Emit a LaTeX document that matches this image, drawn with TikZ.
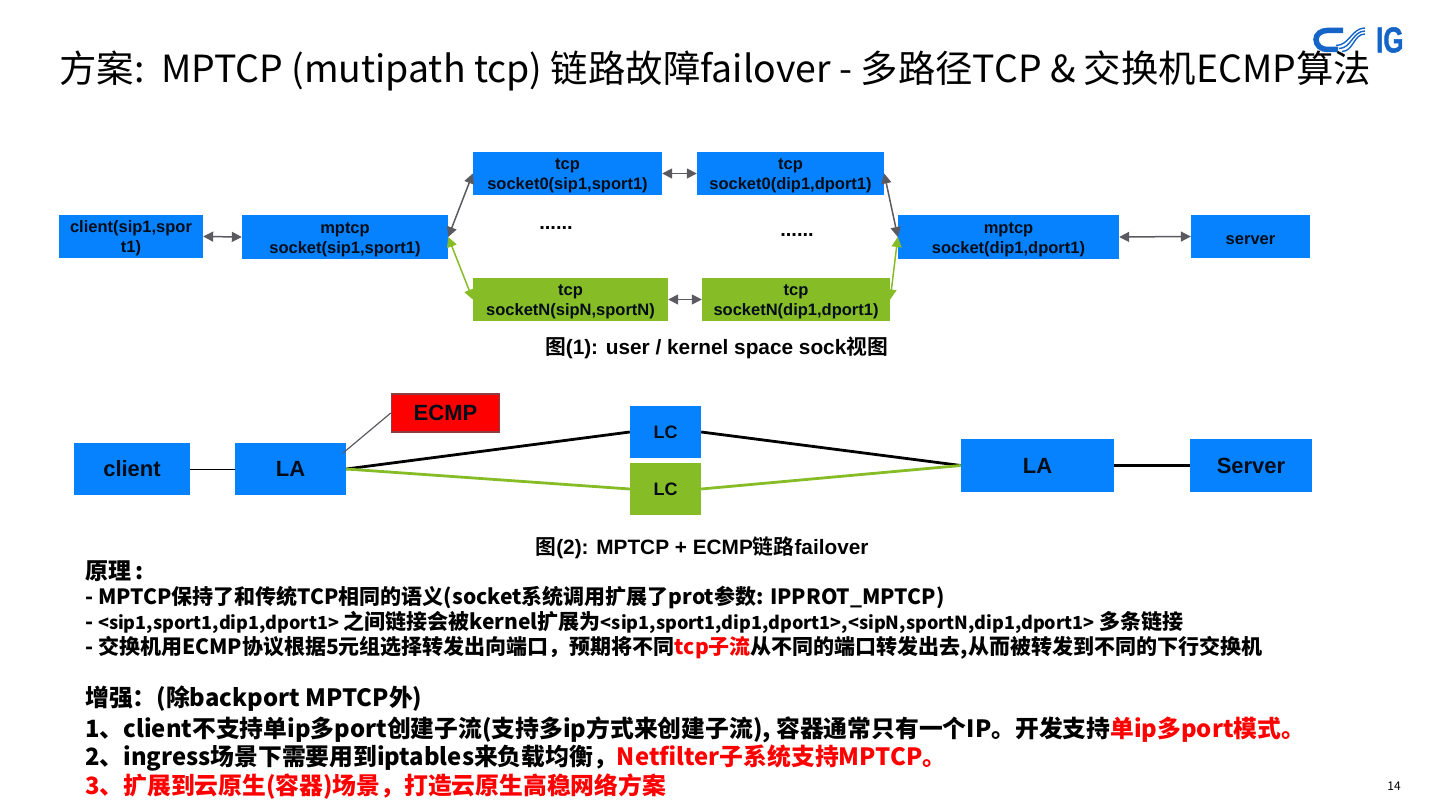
\documentclass[tikz,border=0pt]{standalone}
\usepackage{fontspec}
\setmainfont{Noto Sans CJK SC}
\newfontfamily\helv{Liberation Sans}[BoldFont={Liberation Sans Bold}]
\newfontfamily\cjkb{Noto Sans CJK SC}[BoldFont={Noto Sans CJK SC Bold}]
\newfontfamily\logofont{Liberation Sans Bold}[FakeBold=1.5]
\definecolor{boxblue}{HTML}{0682FF}
\definecolor{boxgreen}{HTML}{86BC25}
\definecolor{linkgray}{HTML}{5A5A60}
\definecolor{ecmpred}{HTML}{FF0000}
\definecolor{logoblue}{HTML}{1565C8}
\usetikzlibrary{arrows.meta}
\tikzset{
  basebox/.style={fill=boxblue, align=center, inner sep=0pt, text=black!90!boxblue},
  sockbox/.style={basebox, font=\helv\bfseries\fontsize{16.5}{20}\selectfont},
  greenbox/.style={sockbox, fill=boxgreen},
  netbox/.style={basebox, font=\helv\bfseries\fontsize{22}{24}\selectfont},
  lcbox/.style={basebox, font=\helv\bfseries\fontsize{18}{20}\selectfont},
  grayarrow/.style={linkgray, line width=1.5pt, {Triangle[length=10pt,width=10pt]}-{Triangle[length=10pt,width=10pt]}},
  greenarrow/.style={grayarrow, boxgreen},
  caption/.style={font=\helv\bfseries\fontsize{20.8}{24}\selectfont, anchor=center},
  bodyline/.style={anchor=west, font=\bfseries\fontsize{21}{25}\selectfont, inner sep=0pt},
  bigline/.style={anchor=west, font=\bfseries\fontsize{23.8}{28}\selectfont, inner sep=0pt}
}
\newcommand{\redtxt}[1]{\textcolor{red}{#1}}
\newcommand{\fwcomma}{\char"FF0C\relax}
\newcommand{\fwcolon}{\char"FF1A\relax}
\newcommand{\lowered}{\rule{0pt}{15.5pt}}
\begin{document}
\begin{tikzpicture}[x=1pt, y=-1pt]
  \useasboundingbox (0,0) rectangle (1440,810);

  \draw[logoblue, line width=5.5pt] (1343,30.5) -- (1327,30.5) to[out=180, in=90] (1316,39.5) to[out=-90, in=180] (1327,49.5) -- (1338,49.5);
  \foreach \off in {0,3,6}
    \draw[logoblue, line width=1.4pt] (1342-\off,51.5-\off) to[out=0, in=180] (1365,34-\off);
  \node[anchor=west, inner sep=0pt, text=logoblue, xscale=.72, transform shape, font=\logofont\fontsize{36}{36}\selectfont] (logo) at (1376,40) {IG};

  \node[anchor=west, inner sep=0pt, font=\fontsize{37.4}{44}\selectfont] (title) at (59,71)
    {方案:\ \ MPTCP (mutipath tcp) 链路故障failover - 多路径TCP \& 交换机ECMP算法};

  \node[sockbox, minimum width=144pt, minimum height=43pt] (client) at (131,236.5) {\lowered client(sip1,spor\\t1)};
  \node[sockbox, minimum width=206pt, minimum height=44pt] (mptcpc) at (345,237) {\lowered mptcp\\socket(sip1,sport1)};
  \node[sockbox, minimum width=189pt, minimum height=43pt] (tcp0s) at (567.5,173.5) {\lowered tcp\\socket0(sip1,sport1)};
  \node[sockbox, minimum width=187pt, minimum height=43pt] (tcp0d) at (790.5,173.5) {\lowered tcp\\socket0(dip1,dport1)};
  \node[greenbox, minimum width=195pt, minimum height=43pt] (tcpNs) at (570.5,299.5) {\lowered tcp\\socketN(sipN,sportN)};
  \node[greenbox, minimum width=188pt, minimum height=43pt] (tcpNd) at (796,299.5) {\lowered tcp\\socketN(dip1,dport1)};
  \node[sockbox, minimum width=221pt, minimum height=44pt] (mptcps) at (1008.5,237) {\lowered mptcp\\socket(dip1,dport1)};
  \node[sockbox, minimum width=119pt, minimum height=43pt] (server) at (1250.5,236.5) {\lowered server};
  \node[font=\helv\bfseries\fontsize{20}{20}\selectfont] (dots1) at (556,228) {......};
  \node[font=\helv\bfseries\fontsize{20}{20}\selectfont] (dots2) at (797,235) {......};

  \draw[grayarrow] (client.east) -- (mptcpc.west);
  \draw[grayarrow] (mptcps.east) -- (server.west);
  \draw[grayarrow] (tcp0s.east) -- (tcp0d.west);
  \draw[grayarrow] (tcpNs.east) -- (tcpNd.west);
  \draw[grayarrow] (mptcpc.east) -- (tcp0s.west);
  \draw[grayarrow] (tcp0d.east) -- (mptcps.west);
  \draw[greenarrow] (mptcpc.east) -- (tcpNs.west);
  \draw[greenarrow] (tcpNd.east) -- (mptcps.west);

  \node[caption] (cap1) at (716.5,348) {{\cjkb\bfseries 图}(1): user / kernel space sock{\cjkb\bfseries 视图}};

  \node[netbox, minimum width=116pt, minimum height=52pt] (cli) at (132,469) {client};
  \node[netbox, minimum width=111pt, minimum height=52pt] (la1) at (290.5,469) {LA};
  \node[netbox, draw=linkgray!70!red, line width=1.5pt, fill=ecmpred, minimum width=108pt, minimum height=38pt] (ecmp) at (445.5,413) {ECMP};
  \node[lcbox, minimum width=71pt, minimum height=52pt] (lc1) at (665.5,432) {LC};
  \node[lcbox, fill=boxgreen, minimum width=71pt, minimum height=52pt] (lc2) at (665.5,489) {LC};
  \node[netbox, minimum width=153pt, minimum height=53pt] (la2) at (1037.5,465.5) {LA};
  \node[netbox, minimum width=122pt, minimum height=53pt] (srv) at (1251,465.5) {Server};
  \coordinate (latop) at (343,453);

  \draw[black, line width=1pt] (cli.east) -- (la1.west);
  \draw[linkgray, line width=1.2pt] (latop) -- (ecmp.west);
  \draw[black, line width=2.8pt] (la1.east) -- (lc1.west);
  \draw[black, line width=2.8pt] (lc1.east) -- (la2.west);
  \draw[boxgreen, line width=2.8pt] (la1.east) -- (lc2.west);
  \draw[boxgreen, line width=2.8pt] (lc2.east) -- (la2.west);
  \draw[black, line width=2.8pt] (la2.east) -- (srv.west);

  \node[caption] (cap2) at (702,548) {{\cjkb\bfseries 图}(2): MPTCP + ECMP{\cjkb\bfseries 链路}failover};

  \node[bodyline, font=\bfseries\fontsize{23}{25}\selectfont] (t1) at (85,571) {原理\,:};
  \node[bodyline] (t2) at (85,598) {- MPTCP保持了和传统TCP相同的语义(socket系统调用扩展了prot参数: IPPROT\_MPTCP)};
  \node[bodyline] (t3) at (85,622) {- {\fontsize{18}{22}\selectfont <sip1,sport1,dip1,dport1>} 之间链接会被kernel扩展为{\fontsize{18}{22}\selectfont <sip1,sport1,dip1,dport1>,<sipN,sportN,dip1,dport1>} 多条链接};
  \node[bodyline] (t4) at (85,648) {- 交换机用ECMP协议根据5元组选择转发出向端口\fwcomma 预期将不同\redtxt{tcp子流}从不同的端口转发出去,从而被转发到不同的下行交换机};
  \node[bigline] (t5) at (85,699) {增强\fwcolon(除backport MPTCP外)};
  \node[bigline] (t6) at (85,729.5) {1、client不支持单ip多port创建子流(支持多ip方式来创建子流), 容器通常只有一个IP。开发支持\redtxt{单ip多port模式。}};
  \node[bigline] (t7) at (85,758) {2、ingress场景下需要用到iptables来负载均衡\fwcomma\redtxt{Netfilter子系统支持MPTCP。}};
  \node[bigline, text=red] (t8) at (85,787) {3、扩展到云原生(容器)场景\fwcomma 打造云原生高稳网络方案};
  \node[font=\fontsize{12}{14}\selectfont, inner sep=0pt] (pageno) at (1394,786) {14};
\end{tikzpicture}
\end{document}
